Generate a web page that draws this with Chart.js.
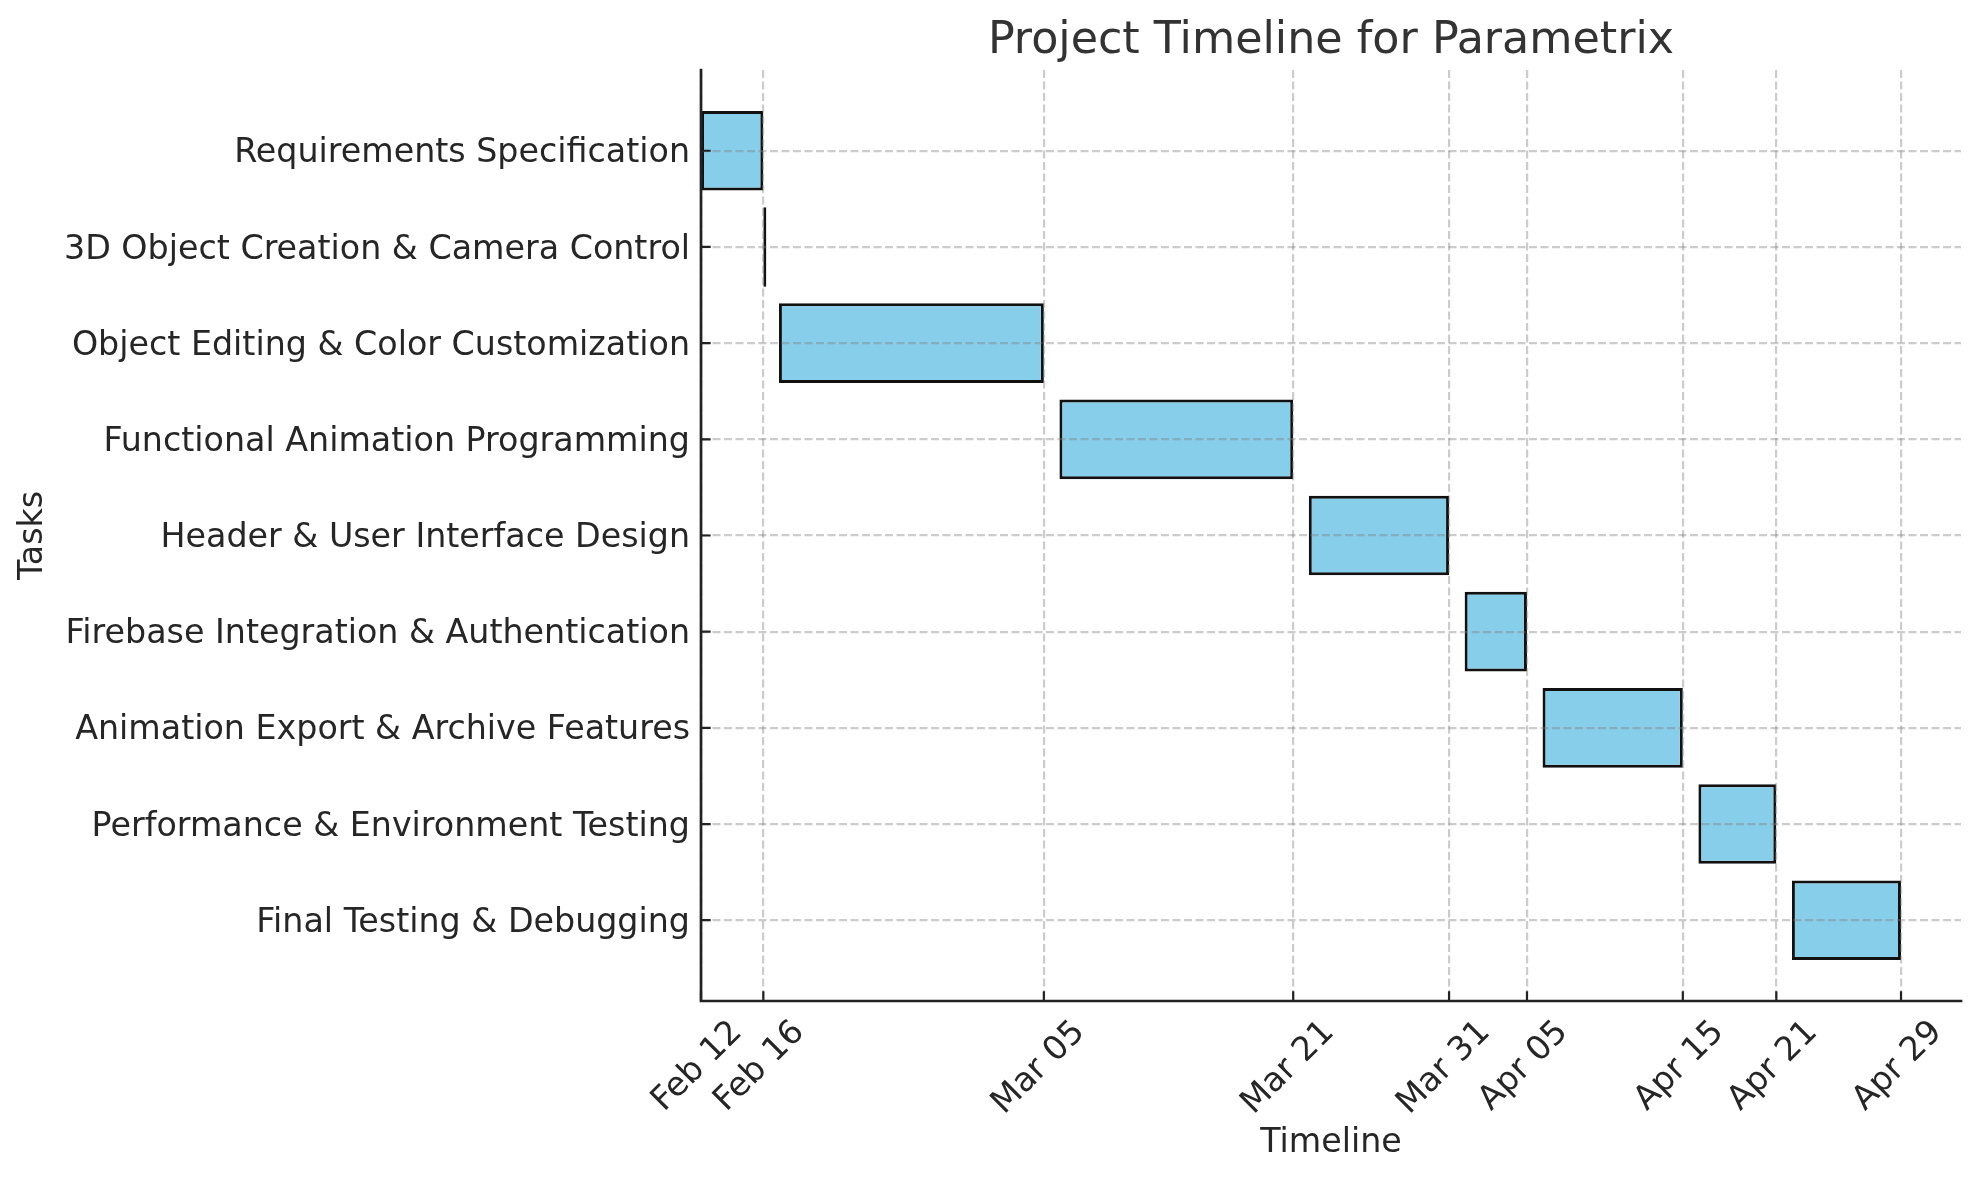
<!DOCTYPE html>
<html>
<head>
<meta charset="utf-8">
<script src="https://cdn.jsdelivr.net/npm/chart.js@4.4.1/dist/chart.umd.min.js"></script>
<style>
  html, body { margin: 0; padding: 0; background: #ffffff; }
  canvas { display: block; }
</style>
</head>
<body>
<canvas id="chart" width="1979" height="1180"></canvas>
<script>
// ---- data ----
const chartTitle = 'Project Timeline for Parametrix';
const xAxisTitle = 'Timeline';
const yAxisTitle = 'Tasks';

const tasks = [
  'Requirements Specification',
  '3D Object Creation & Camera Control',
  'Object Editing & Color Customization',
  'Functional Animation Programming',
  'Header & User Interface Design',
  'Firebase Integration & Authentication',
  'Animation Export & Archive Features',
  'Performance & Environment Testing',
  'Final Testing & Debugging'
];
const startDates = [
  '2024-02-12', '2024-02-16', '2024-02-17', '2024-03-06', '2024-03-22',
  '2024-04-01', '2024-04-06', '2024-04-16', '2024-04-22'
];
const endDates = [
  '2024-02-16', '2024-02-16', '2024-03-05', '2024-03-21', '2024-03-31',
  '2024-04-05', '2024-04-15', '2024-04-21', '2024-04-29'
];
const tickDates = [
  '2024-02-12', '2024-02-16', '2024-03-05', '2024-03-21', '2024-03-31',
  '2024-04-05', '2024-04-15', '2024-04-21', '2024-04-29'
];
const tickLabels = [
  'Feb 12', 'Feb 16', 'Mar 05', 'Mar 21', 'Mar 31',
  'Apr 05', 'Apr 15', 'Apr 21', 'Apr 29'
];

// ---- helpers ----
const DAY_MS = 86400000;
function dayNum(s) {
  const p = s.split('-').map(Number);
  return Date.UTC(p[0], p[1] - 1, p[2]) / DAY_MS;
}
const starts = startDates.map(dayNum);
const ends = endDates.map(dayNum);
const xMin = Math.min(...starts);
const xMaxData = Math.max(...ends);
const xMax = xMaxData + 0.05 * (xMaxData - xMin);

const barFrac = 0.8;
const yPad = 0.05 * ((tasks.length - 1) + barFrac);
const yMin = -barFrac / 2 - yPad;
const yMax = tasks.length - 1 + barFrac / 2 + yPad;

const FONT = 'DejaVu Sans';
Chart.defaults.font.family = FONT;
Chart.defaults.color = '#262626';

const gridColor = 'rgba(128,128,128,0.4)';

const spinePlugin = {
  id: 'spines',
  afterDraw(chart) {
    const { ctx, chartArea: a, scales } = chart;
    const xs = scales.x, ys = scales.y;
    ctx.save();
    ctx.setLineDash([]);
    ctx.strokeStyle = '#222222';
    // inward ticks
    ctx.lineWidth = 2.2;
    ctx.beginPath();
    xs.ticks.forEach(t => {
      const px = xs.getPixelForValue(t.value);
      ctx.moveTo(px, a.bottom);
      ctx.lineTo(px, a.bottom - 9.7);
    });
    ys.ticks.forEach(t => {
      const py = ys.getPixelForValue(t.value);
      ctx.moveTo(a.left, py);
      ctx.lineTo(a.left + 9.7, py);
    });
    ctx.stroke();
    // spines
    ctx.lineWidth = 2.7;
    ctx.lineJoin = 'miter';
    ctx.lineCap = 'square';
    ctx.beginPath();
    ctx.moveTo(a.left, a.top);
    ctx.lineTo(a.left, a.bottom);
    ctx.lineTo(a.right, a.bottom);
    ctx.stroke();
    ctx.restore();
  }
};

new Chart(document.getElementById('chart'), {
  type: 'bar',
  data: {
    datasets: [{
      data: tasks.map((t, i) => ({ y: i, x: [starts[i], ends[i]] })),
      backgroundColor: '#87CEEB',
      borderColor: '#111111',
      borderWidth: 3,
      borderSkipped: false,
      minBarLength: 3,
      barPercentage: 0.828,
      categoryPercentage: 1.0
    }]
  },
  options: {
    indexAxis: 'y',
    responsive: false,
    animation: false,
    devicePixelRatio: 1,
    layout: { padding: { left: 0, right: 18, top: 0, bottom: 0 } },
    plugins: {
      legend: { display: false },
      tooltip: { enabled: false },
      title: {
        display: true,
        text: chartTitle,
        fullSize: false,
        color: '#333333',
        font: { family: FONT, size: 44.4, weight: 'normal', lineHeight: 1.2 },
        padding: { top: 15, bottom: 1.7 }
      }
    },
    scales: {
      x: {
        type: 'linear',
        position: 'bottom',
        offset: false,
        min: xMin,
        max: xMax,
        afterBuildTicks: (axis) => { axis.ticks = tickDates.map(d => ({ value: dayNum(d) })); },
        afterFit: (axis) => { axis.height = 179; },
        ticks: {
          autoSkip: false,
          maxRotation: 45,
          minRotation: 45,
          padding: 12,
          labelOffset: 36,
          color: '#262626',
          font: { family: FONT, size: 33.3 },
          callback: (v, i) => tickLabels[i]
        },
        grid: {
          display: true,
          offset: false,
          drawTicks: false,
          color: gridColor,
          lineWidth: 2.2,
          z: 1
        },
        border: { display: false, dash: [8, 3.5] },
        title: {
          display: true,
          text: xAxisTitle,
          color: '#262626',
          font: { family: FONT, size: 33.3, lineHeight: 1.2 },
          padding: { top: 0, bottom: 17 }
        }
      },
      y: {
        type: 'linear',
        position: 'left',
        reverse: true,
        offset: false,
        min: yMin,
        max: yMax,
        afterBuildTicks: (axis) => { axis.ticks = tasks.map((t, i) => ({ value: i })); },
        afterFit: (axis) => { axis.width = 701; },
        ticks: {
          autoSkip: false,
          padding: 11,
          labelOffset: 3,
          color: '#262626',
          font: { family: FONT, size: 33.3 },
          callback: (v, i) => tasks[i]
        },
        grid: {
          display: true,
          offset: false,
          drawTicks: false,
          color: gridColor,
          lineWidth: 2.2,
          z: 1
        },
        border: { display: false, dash: [8, 3.5] },
        title: {
          display: true,
          text: yAxisTitle,
          color: '#262626',
          font: { family: FONT, size: 33.3, lineHeight: 1.2 },
          padding: { top: 13, bottom: 0 }
        }
      }
    }
  },
  plugins: [spinePlugin]
});
</script>
</body>
</html>
